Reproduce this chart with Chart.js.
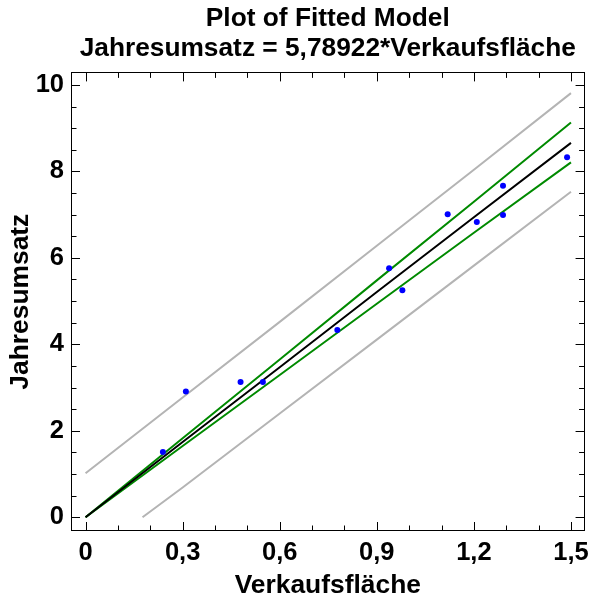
<!DOCTYPE html>
<html>
<head>
<meta charset="utf-8">
<script src="https://cdn.jsdelivr.net/npm/chart.js@4/dist/chart.umd.min.js"></script>
<style>
  html, body { margin: 0; padding: 0; background: #fff; }
  #wrap { width: 596px; height: 597px; }
</style>
</head>
<body>
<div id="wrap"><canvas id="myChart" width="596" height="597"></canvas></div>
<script>
// observed points
const obsX = [0.239, 0.310, 0.479, 0.548, 0.778, 0.938, 0.979, 1.119, 1.209, 1.290, 1.290, 1.488];
const obsY = [1.51, 2.91, 3.13, 3.13, 4.33, 5.76, 5.25, 7.01, 6.83, 7.67, 6.99, 8.33];

// fitted line and limits
const bandX = [0, 0.3, 0.6, 0.9, 1.2, 1.5];
const fitY = [0, 1.74, 3.47, 5.21, 6.94, 8.66];
const confUpperY = [0, 1.83, 3.65, 5.48, 7.30, 9.13];
const confLowerY = [0, 1.65, 3.29, 4.94, 6.58, 8.21];
const predUpperY = [1.02, 2.77, 4.52, 6.28, 8.04, 9.81];
const predLowerX = [0.176, 0.3, 0.6, 0.9, 1.2, 1.5];
const predLowerY = [0, 0.69, 2.40, 4.11, 5.82, 7.53];

const xTicks = [0, 0.3, 0.6, 0.9, 1.2, 1.5];
const xTickLabels = ['0', '0,3', '0,6', '0,9', '1,2', '1,5'];
const yTicks = [0, 2, 4, 6, 8, 10];
const yTickLabels = ['0', '2', '4', '6', '8', '10'];

function pts(xs, ys) {
  return xs.map((x, i) => ({x: x, y: ys[i]}));
}

const FONT = "'Liberation Sans', Arial, sans-serif";

// frame and inward ticks on all four sides
const framePlugin = {
  id: 'frame',
  afterDraw(chart) {
    const c = chart.ctx, a = chart.chartArea;
    const xs = chart.scales.x, ys = chart.scales.y;
    c.save();
    c.strokeStyle = '#000';
    c.lineWidth = 1;
    c.strokeRect(Math.round(a.left) + 0.5, Math.round(a.top) + 0.5,
      Math.round(a.right - a.left) - 1, Math.round(a.bottom - a.top) - 1);
    c.beginPath();
    for (let i = 0; i <= 15; i++) {
      const v = i / 10;
      const len = (i % 3 === 0) ? 9 : 5.5;
      const px = Math.round(xs.getPixelForValue(v)) + 0.5;
      c.moveTo(px, a.bottom); c.lineTo(px, a.bottom - len);
      c.moveTo(px, a.top); c.lineTo(px, a.top + len);
    }
    for (let i = 0; i <= 20; i++) {
      const v = i / 2;
      const len = (i % 4 === 0) ? 9 : 5.5;
      const py = Math.round(ys.getPixelForValue(v)) + 0.5;
      c.moveTo(a.left, py); c.lineTo(a.left + len, py);
      c.moveTo(a.right, py); c.lineTo(a.right - len, py);
    }
    c.stroke();
    c.restore();
  }
};

var ctx = document.getElementById('myChart').getContext('2d');
new Chart(ctx, {
  type: 'scatter',
  data: {
    datasets: [{
      label: 'Beobachtungen',
      data: pts(obsX, obsY),
      backgroundColor: '#0000ff',
      borderColor: '#0000ff',
      pointRadius: 3,
      borderWidth: 0,
      order: 0
    }, {
      label: 'Modell',
      data: pts(bandX, fitY),
      showLine: true,
      borderColor: '#000000',
      borderWidth: 2,
      pointRadius: 0,
      order: 1
    }, {
      label: 'Konfidenz oben',
      data: pts(bandX, confUpperY),
      showLine: true,
      borderColor: '#008a00',
      borderWidth: 2,
      pointRadius: 0,
      order: 2
    }, {
      label: 'Konfidenz unten',
      data: pts(bandX, confLowerY),
      showLine: true,
      borderColor: '#008a00',
      borderWidth: 2,
      pointRadius: 0,
      order: 2
    }, {
      label: 'Prognose oben',
      data: pts(bandX, predUpperY),
      showLine: true,
      borderColor: '#b4b4b4',
      borderWidth: 2,
      pointRadius: 0,
      order: 3
    }, {
      label: 'Prognose unten',
      data: pts(predLowerX, predLowerY),
      showLine: true,
      borderColor: '#b4b4b4',
      borderWidth: 2,
      pointRadius: 0,
      order: 3
    }]
  },
  options: {
    responsive: false,
    animation: false,
    layout: { padding: { left: 0, right: 5, top: 0, bottom: 0 } },
    plugins: {
      legend: { display: false },
      tooltip: { enabled: false },
      title: {
        display: true,
        fullSize: false,
        text: ['Plot of Fitted Model', 'Jahresumsatz = 5,78922*Verkaufsfläche'],
        color: '#000',
        font: { family: FONT, size: 26.3, weight: 'bold', lineHeight: '30.7px' },
        padding: { top: 3, bottom: 8 }
      }
    },
    scales: {
      x: {
        type: 'linear',
        min: -0.045,
        max: 1.542,
        grid: { display: false, drawTicks: false },
        border: { display: false },
        afterBuildTicks: (s) => { s.ticks = xTicks.map(v => ({value: v})); },
        afterFit: (s) => { s.height = 66; },
        ticks: {
          color: '#000',
          padding: 7,
          maxRotation: 0,
          autoSkip: false,
          font: { family: FONT, size: 25.5, weight: 'bold', lineHeight: 1.2 },
          callback: (v, i) => xTickLabels[i]
        },
        title: {
          display: true,
          text: 'Verkaufsfläche',
          color: '#000',
          font: { family: FONT, size: 26.4, weight: 'bold', lineHeight: '22px' },
          padding: 0
        }
      },
      y: {
        type: 'linear',
        min: -0.317,
        max: 10.29,
        grid: { display: false, drawTicks: false },
        border: { display: false },
        afterBuildTicks: (s) => { s.ticks = yTicks.map(v => ({value: v})); },
        afterFit: (s) => { s.width = 71; },
        ticks: {
          color: '#000',
          padding: 7,
          autoSkip: false,
          font: { family: FONT, size: 25.5, weight: 'bold' },
          callback: (v, i) => yTickLabels[i]
        },
        title: {
          display: true,
          text: 'Jahresumsatz',
          color: '#000',
          font: { family: FONT, size: 26.4, weight: 'bold', lineHeight: '22px' },
          padding: { top: 9.5, bottom: 0 }
        }
      }
    }
  },
  plugins: [framePlugin]
});
</script>
</body>
</html>
